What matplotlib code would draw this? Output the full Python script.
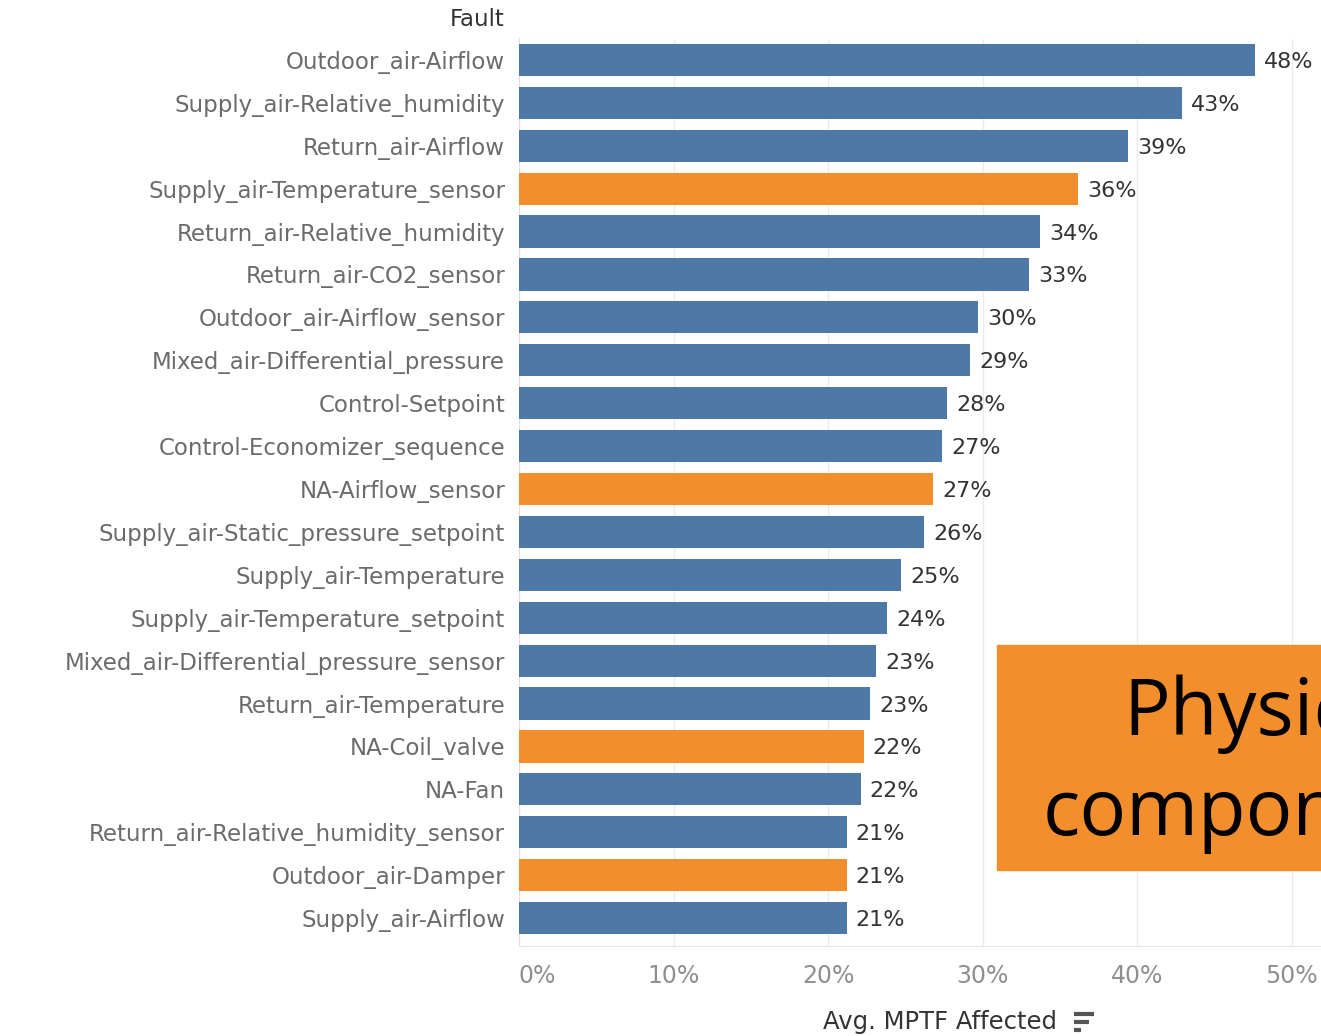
import matplotlib
matplotlib.use("Agg")
import matplotlib.pyplot as plt
from matplotlib.lines import Line2D
from matplotlib.patches import Rectangle

# data
faults = [
    "Outdoor_air-Airflow", "Supply_air-Relative_humidity", "Return_air-Airflow",
    "Supply_air-Temperature_sensor", "Return_air-Relative_humidity", "Return_air-CO2_sensor",
    "Outdoor_air-Airflow_sensor", "Mixed_air-Differential_pressure", "Control-Setpoint",
    "Control-Economizer_sequence", "NA-Airflow_sensor", "Supply_air-Static_pressure_setpoint",
    "Supply_air-Temperature", "Supply_air-Temperature_setpoint",
    "Mixed_air-Differential_pressure_sensor", "Return_air-Temperature", "NA-Coil_valve",
    "NA-Fan", "Return_air-Relative_humidity_sensor", "Outdoor_air-Damper", "Supply_air-Airflow",
]
mptf = [0.476, 0.429, 0.394, 0.362, 0.337, 0.330, 0.297, 0.292, 0.277, 0.274, 0.268,
        0.262, 0.247, 0.238, 0.231, 0.227, 0.223, 0.221, 0.212, 0.212, 0.212]
physical = [False, False, False, True, False, False, False, False, False, False, True,
            False, False, False, False, False, True, False, False, True, False]

BLUE = "#4e79a7"
ORANGE = "#f28e2b"
FONT = "DejaVu Sans"

W, H = 1321, 1036
fig = plt.figure(figsize=(W / 100, H / 100), dpi=100)

left, right = 519, 1321
top_px, bot_px = 38.5, 946
ax = fig.add_axes([left / W, 1 - bot_px / H, (right - left) / W, (bot_px - top_px) / H])

y = list(range(len(faults)))
colors = [ORANGE if p else BLUE for p in physical]
ax.barh(y, mptf, height=0.75, color=colors, zorder=3)

ax.set_xlim(0, 0.519)
ax.set_ylim(20.65, -0.5)

for yi, v in zip(y, mptf):
    ax.text(v + 0.006, yi, f"{round(v * 100):.0f}%", va="center_baseline", ha="left",
            fontsize=16, color="#333333", family=FONT, zorder=4)

ax.set_yticks(y)
ax.set_yticklabels(faults, fontsize=16.5, color="#6b6b6b", family=FONT)
for lbl in ax.get_yticklabels():
    lbl.set_verticalalignment("center_baseline")
ax.tick_params(axis="y", length=0, pad=10)

ticks = [0, 0.1, 0.2, 0.3, 0.4, 0.5]
ax.set_xticks(ticks)
ax.set_xticklabels([f"{int(t * 100)}%" for t in ticks], fontsize=17, color="#8f8f8f",
                   family=FONT)
ax.get_xticklabels()[0].set_horizontalalignment("left")
ax.tick_params(axis="x", length=0, pad=13)

ax.grid(axis="x", color="#ebebeb", linewidth=1, zorder=0)
for s in ["top", "right"]:
    ax.spines[s].set_visible(False)
ax.spines["left"].set_color("#e0e0e0")
ax.spines["bottom"].set_color("#e6e6e6")

fig.text(505 / W, 1 - 20 / H, "Fault", ha="right", va="center", fontsize=16.5,
         color="#333333", family=FONT)

fig.text(940 / W, 1 - 1022 / H, "Avg. MPTF Affected", ha="center", va="center",
         fontsize=17.5, color="#333333", family=FONT)
# little sort icon next to the axis title
for i, ln in enumerate([20, 15, 7]):
    yy = 1 - (1014 + i * 8) / H
    fig.add_artist(Line2D([1074 / W, (1074 + ln) / W], [yy, yy], color="#555555",
                          linewidth=3, solid_capstyle="butt"))

# overlay box pasted on the slide (runs off the right edge, as in the source)
fig.add_artist(Rectangle((997 / W, 1 - 870 / H), 400 / W, 225 / H,
                         transform=fig.transFigure, color=ORANGE, zorder=10))
fig.text(1123 / W, 1 - 735 / H, "Physical", ha="left", va="baseline", fontsize=56,
         color="black", family="Open Sans", zorder=11)
fig.text(1043 / W, 1 - 835 / H, "components", ha="left", va="baseline", fontsize=56,
         color="black", family="Open Sans", zorder=11)

fig.savefig("out.png", dpi=100)
